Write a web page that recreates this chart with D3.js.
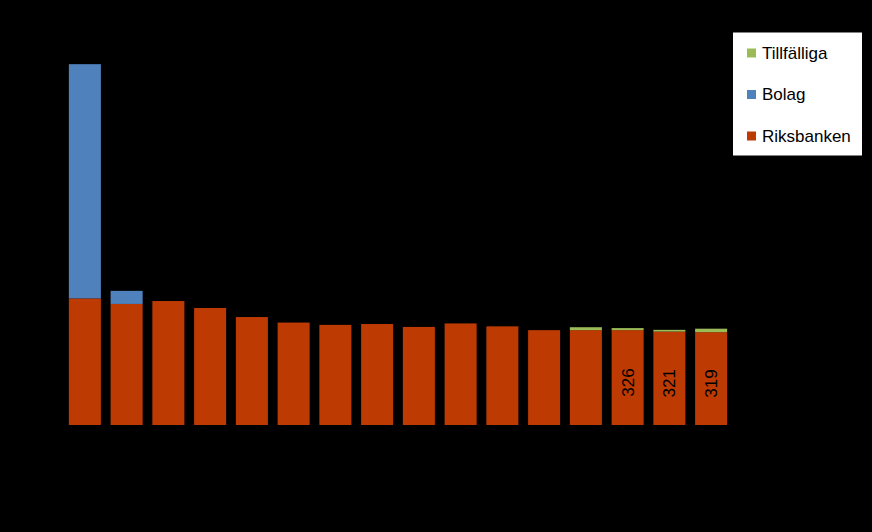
<!DOCTYPE html>
<html>
<head>
<meta charset="utf-8">
<script src="https://cdn.jsdelivr.net/npm/d3@7"></script>
<style>
  html, body { margin: 0; padding: 0; background: #000; }
  svg { display: block; }
</style>
</head>
<body>
<div id="chart"></div>
<script>
// axis labels are black on black in the original, so categories are only keys
var categories = ['1', '2', '3', '4', '5', '6', '7', '8', '9', '10', '11', '12', '13', '14', '15', '16'];
var riksbanken = [435, 416, 426, 402, 371, 352, 344, 347, 337, 349, 339, 326, 326, 326, 321, 319];
var bolag      = [805, 45, 0, 0, 0, 0, 0, 0, 0, 0, 0, 0, 0, 0, 0, 0];
var tillfalliga = [0, 0, 0, 0, 0, 0, 0, 0, 0, 0, 0, 0, 10, 7, 6, 12];
var labelledBars = ['14', '15', '16'];

var seriesNames = ['Riksbanken', 'Bolag', 'Tillfälliga'];
var colors = { 'Riksbanken': '#BE3A03', 'Bolag': '#4F81BD', 'Tillfälliga': '#9BBB59' };

var W = 872, H = 532;

var rows = categories.map(function(c, i) {
  return { cat: c, 'Riksbanken': riksbanken[i], 'Bolag': bolag[i], 'Tillfälliga': tillfalliga[i] };
});

var svg = d3.select('#chart').append('svg')
  .attr('width', W)
  .attr('height', H);

svg.append('rect').attr('width', W).attr('height', H).attr('fill', '#000');

var x = d3.scaleBand()
  .domain(categories)
  .range([64, 732])
  .paddingInner(0.233)
  .paddingOuter(0.1165);

var y = d3.scaleLinear()
  .domain([0, 1400])
  .range([425, 17.6]);

var stacked = d3.stack().keys(seriesNames)(rows);

var layers = svg.selectAll('.layer')
  .data(stacked)
  .enter().append('g')
    .attr('class', 'layer')
    .attr('fill', function(s) { return colors[s.key]; });

layers.selectAll('rect')
  .data(function(s) { return s; })
  .enter().append('rect')
    .attr('x', function(d) { return x(d.data.cat); })
    .attr('width', x.bandwidth())
    .attr('y', function(d) { return y(d[1]); })
    .attr('height', function(d) { return y(d[0]) - y(d[1]); });

// value labels inside the last red bars, rotated
svg.selectAll('.val')
  .data(rows.filter(function(r) { return labelledBars.indexOf(r.cat) >= 0; }))
  .enter().append('text')
    .attr('class', 'val')
    .attr('transform', function(d) {
      var cx = x(d.cat) + x.bandwidth() / 2;
      var cy = (y(0) + y(d['Riksbanken'])) / 2 + 5;
      return 'translate(' + cx + ',' + cy + ') rotate(-90)';
    })
    .attr('text-anchor', 'middle')
    .attr('dy', '0.35em')
    .attr('font-family', 'Liberation Sans, Arial, sans-serif')
    .attr('font-size', 17)
    .attr('fill', '#000')
    .text(function(d) { return d['Riksbanken']; });

// legend
var legend = svg.append('g').attr('transform', 'translate(733,32.5)');
legend.append('rect')
  .attr('width', 129)
  .attr('height', 123)
  .attr('fill', '#fff');

var legendOrder = ['Tillfälliga', 'Bolag', 'Riksbanken'];
var item = legend.selectAll('.item')
  .data(legendOrder)
  .enter().append('g')
    .attr('class', 'item')
    .attr('transform', function(d, i) { return 'translate(14,' + (20.5 + i * 41.5) + ')'; });

item.append('rect')
  .attr('y', -4.5)
  .attr('width', 9)
  .attr('height', 9)
  .attr('fill', function(d) { return colors[d]; });

item.append('text')
  .attr('x', 15)
  .attr('dy', '0.35em')
  .attr('font-family', 'Liberation Sans, Arial, sans-serif')
  .attr('font-size', 17)
  .attr('fill', '#000')
  .text(function(d) { return d; });
</script>
</body>
</html>
